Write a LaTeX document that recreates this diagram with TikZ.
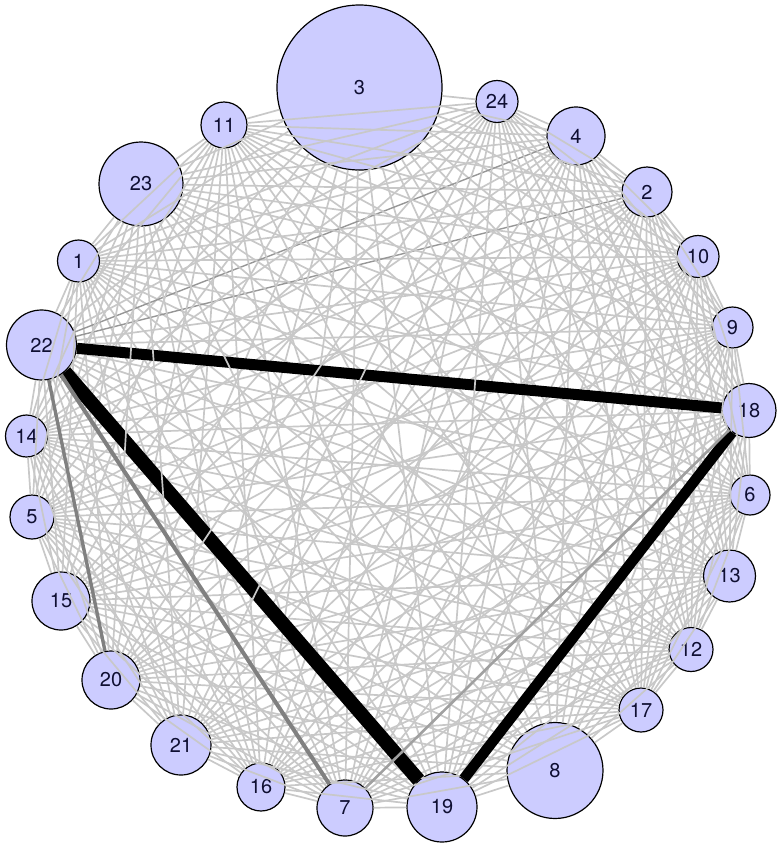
\documentclass[tikz,border=0pt]{standalone}
\usepackage{fontspec}
\setmainfont{TeX Gyre Heros}
\definecolor{vfill}{RGB}{204,204,255}
\definecolor{lg}{RGB}{200,200,200}
\definecolor{labc}{RGB}{15,15,50}
\definecolor{mg}{RGB}{128,128,128}
\definecolor{pg}{RGB}{160,160,160}
\begin{document}
\begin{tikzpicture}[x=1pt,y=-1pt,
  v/.style={circle,draw=black,line width=1.2pt,fill=vfill,inner sep=0pt,
    font=\fontsize{20}{22}\selectfont,text=labc},
  e/.style={draw=lg,line width=1.7pt},
  e-2-22/.style={draw={rgb,255:red,150;green,150;blue,150},line width=1.4pt},
  e-4-22/.style={draw={rgb,255:red,150;green,150;blue,150},line width=1.4pt},
  e-7-18/.style={draw=none},
  e-7-22/.style={draw=none},
  e-20-22/.style={draw=none},
  e-18-19/.style={draw=black,line width=10.5pt},
  e-18-22/.style={draw=black,line width=11pt},
  e-19-22/.style={draw=black,line width=14pt},
  emid/.style={draw=mg,line width=#1}]
\useasboundingbox (0,0) rectangle (781,846);
\foreach \n/\x/\y/\r in {
  3/359.5/87.5/82.5, 24/497/101.5/21, 4/576/136/29, 2/647/192/25,
  10/698/256.5/21, 9/732.5/327.5/20.5, 18/749/410.5/27, 6/750/495/20,
  13/729.5/576/26, 12/691/649.5/22, 17/641/710/22, 8/555/770.5/48,
  19/442/807/35, 7/345/808/28, 16/261/787/24, 21/181/745/30,
  20/111/680/29, 15/61/601/29, 5/32/517/22, 14/26.5/436/21,
  22/41.5/345/35, 1/78.5/261/21, 23/141/184/42, 11/224/125/23}
  {\node[v,minimum size=2*\r pt] (n\n) at (\x,\y) {\n};}
\foreach \i in {1,...,23}{
  \pgfmathtruncatemacro\k{\i+1}
  \foreach \j in {\k,...,24}{
    \draw[e,e-\i-\j/.try] (n\i) -- (n\j);
  }
}
\draw[draw=pg,line width=2.6pt] (n7) -- (n18);
\draw[emid=4pt] (n22) -- (n7);
\draw[emid=3.4pt] (n22) -- (n20);
\end{tikzpicture}
\end{document}
